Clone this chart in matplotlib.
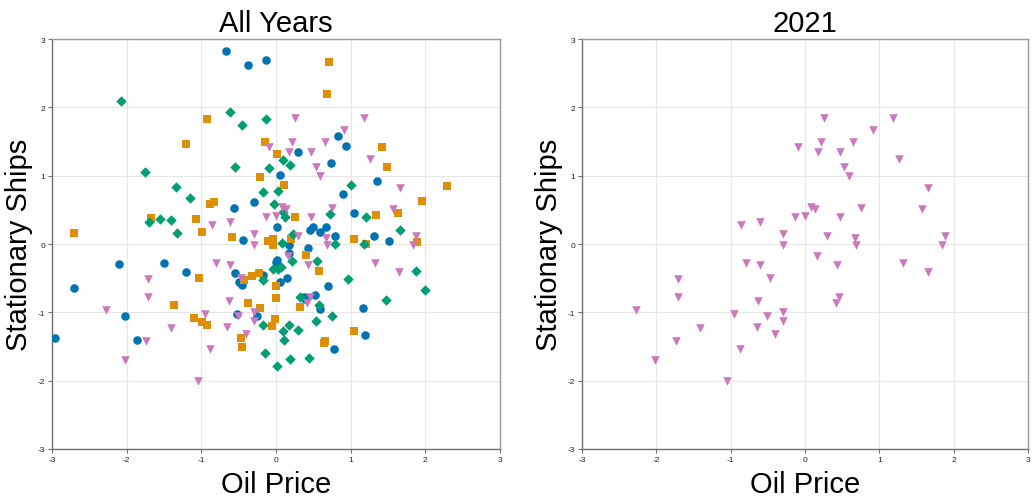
import matplotlib
matplotlib.use("Agg")
import matplotlib.pyplot as plt

plt.rcParams['font.family'] = ['Liberation Sans', 'DejaVu Sans']
plt.rcParams['axes.unicode_minus'] = False

# ---- data ----
blue_x = [-0.67, -0.38, -0.13, -0.29, -0.56, -0.44,
          0.83, 0.94, 0.29, 0.74, 0.05, 1.35, 0.90, 1.04, 0.02, 0.45, 0.50, 0.59, 0.67, 0.79, 1.31, 1.52, 0.17, 0.43,
          -2.96, -2.70, -2.10, -2.02, -1.86, -1.50, -1.21, -0.55, -0.50, -0.46, -0.52, -0.26, -0.18,
          0.18, 0.00, 0.02, 0.05, 0.15, 0.70, 0.37, 0.39, 0.52, 0.59, 1.17, 1.19, 0.78]
blue_y = [2.82, 2.62, 2.69, 0.61, 0.52, 0.06,
          1.58, 1.43, 1.35, 1.18, 1.01, 0.92, 0.73, 0.46, 0.25, 0.20, 0.25, 0.18, 0.25, 0.12, 0.12, 0.04, -0.01, -0.06,
          -1.37, -0.64, -0.29, -1.06, -1.41, -0.28, -0.41, -0.42, -0.56, -0.60, -1.02, -1.05, -0.45,
          -0.13, -0.27, -0.23, -0.55, -0.50, -0.62, -0.78, -0.81, -0.74, -0.95, -0.93, -1.33, -1.54]

orange_x = [-2.71, -1.20, -0.92, -0.15, 0.01, -0.21, -0.89, -0.83, -1.67, -1.07, -0.99, -0.59, -0.10, -0.04, -0.04,
            0.71, 0.69, 1.42, 1.49, 0.11, 2.29, 1.96, 1.64, 0.25, 1.34, 1.04, 0.20, 1.20, 1.89,
            -1.03, -1.36, -1.10, -0.99, -0.93, -0.43, -0.32, -0.23, -0.38, -0.21, -0.05, -0.01, -0.47, -0.46, 0.00, 0.00,
            0.40, 0.58, 0.32, 1.05, 0.66, 0.64]
orange_y = [0.16, 1.46, 1.83, 1.50, 1.31, 0.98, 0.59, 0.61, 0.38, 0.36, 0.17, 0.10, 0.05, 0.07, -0.01,
            2.66, 2.20, 1.42, 1.12, 0.87, 0.85, 0.63, 0.46, 0.40, 0.43, 0.08, 0.08, 0.00, 0.03,
            -0.50, -0.90, -1.09, -1.14, -1.18, -0.52, -0.47, -0.42, -0.87, -0.94, -1.20, -1.10, -1.37, -1.51, -0.61, -0.79,
            -0.16, -0.40, -0.92, -1.28, -1.42, -1.45]

green_x = [-2.08, -0.61, -0.46, -0.14, -1.75, -0.55, -0.09, -1.34, -1.15, -0.18, 0.03, -0.02, -1.70, -1.55, -1.40, -1.32,
           0.09, 0.19, 1.01, 0.09, 0.12, 0.73, 1.21, 0.23, 1.66, 0.08, 0.79, 1.18,
           -0.17, -0.18, -0.15, 0.01, -0.04, 0.03, 0.07,
           0.21, 0.55, 0.96, 1.88, 2.00, 1.47, 0.32, 0.58, 0.75, 0.53, 0.17, 0.09, 0.30, 0.11, 0.19, 0.44]
green_y = [2.09, 1.93, 1.74, 1.83, 1.05, 1.13, 1.11, 0.84, 0.67, 0.76, 0.77, 0.58, 0.32, 0.37, 0.35, 0.16,
           1.23, 1.16, 0.87, 0.47, 0.40, 0.44, 0.39, 0.15, 0.20, 0.02, 0.00, 0.00,
           -0.53, -1.18, -1.60, -1.79, -0.37, -0.36, -0.33,
           -0.25, -0.25, -0.51, -0.39, -0.67, -0.82, -0.78, -0.89, -1.06, -1.12, -1.18, -1.28, -1.26, -1.41, -1.68, -1.67]

# 2021 series (pink triangles)
y2021_x = [-0.09, -0.13, -0.86, -0.61, -0.29, -0.29, -0.80, -0.61, -0.47, -1.71, -1.71, -0.63, -2.27, -0.95,
           -0.29, -0.51, -0.29, -1.41, -0.65, -0.40, -1.74, -0.88, -2.02, -1.05,
           0.25, 1.18, 0.91, 0.22, 0.65, 0.18, 0.47, 1.26, 0.53, 0.59, 1.66, 0.08, 0.13, 0.75, 1.57,
           0.00, 0.47, 0.29, 0.67, 0.68, 1.88, 1.84, 0.16, 0.43, 1.32, 1.65, 0.46, 0.42]
y2021_y = [1.42, 0.39, 0.28, 0.32, 0.14, -0.01, -0.28, -0.31, -0.50, -0.51, -0.77, -0.84, -0.96, -1.02,
           -1.00, -1.06, -1.13, -1.23, -1.22, -1.32, -1.42, -1.54, -1.70, -2.01,
           1.85, 1.85, 1.67, 1.50, 1.50, 1.35, 1.35, 1.24, 1.13, 1.00, 0.82, 0.54, 0.51, 0.53, 0.51,
           0.41, 0.40, 0.12, 0.09, -0.01, 0.11, -0.01, -0.17, -0.31, -0.28, -0.41, -0.77, -0.87]

ticks = [-3, -2, -1, 0, 1, 2, 3]
tick_labels = ["-3", "-2", "-1", "0", "1", "2", "3"]

BLUE = "#0173B2"
ORANGE = "#DE8F05"
GREEN = "#029E73"
PINK = "#CC78BC"

fig = plt.figure(figsize=(10.33, 5.02), dpi=100)
ax1 = fig.add_axes([0.0503, 0.1036, 0.4337, 0.8167])
ax2 = fig.add_axes([0.5634, 0.1036, 0.4317, 0.8167])


def style(ax, title):
    ax.set_xlim(-3, 3)
    ax.set_ylim(-3, 3)
    ax.set_xticks(ticks)
    ax.set_xticklabels(tick_labels)
    ax.set_yticks(ticks)
    ax.set_yticklabels(tick_labels)
    ax.grid(True, color="#e6e6e6", linewidth=0.8)
    ax.set_axisbelow(True)
    for s in ["top", "right"]:
        ax.spines[s].set_color("#9a9a9a")
        ax.spines[s].set_linewidth(1.0)
    for s in ["left", "bottom"]:
        ax.spines[s].set_color("#707070")
        ax.spines[s].set_linewidth(1.0)
    ax.tick_params(axis="both", direction="out", length=3, width=0.8,
                   color="#707070", labelsize=6, pad=2, labelcolor="#222222")
    ax.set_title(title, fontsize=21, pad=6)
    ax.set_xlabel("Oil Price", fontsize=21, labelpad=5)
    ax.set_ylabel("Stationary Ships", fontsize=21, labelpad=3)


ms = 38
ax1.scatter(blue_x, blue_y, marker="o", s=ms, color=BLUE, linewidths=0, zorder=3)
ax1.scatter(orange_x, orange_y, marker="s", s=ms * 0.85, color=ORANGE, linewidths=0, zorder=3)
ax1.scatter(green_x, green_y, marker="D", s=ms * 0.75, color=GREEN, linewidths=0, zorder=3)
ax1.scatter(y2021_x, y2021_y, marker="v", s=ms, color=PINK, linewidths=0, zorder=3)
style(ax1, "All Years")

ax2.scatter(y2021_x, y2021_y, marker="v", s=ms, color=PINK, linewidths=0, zorder=3)
style(ax2, "2021")

fig.savefig("out.png", dpi=100)
